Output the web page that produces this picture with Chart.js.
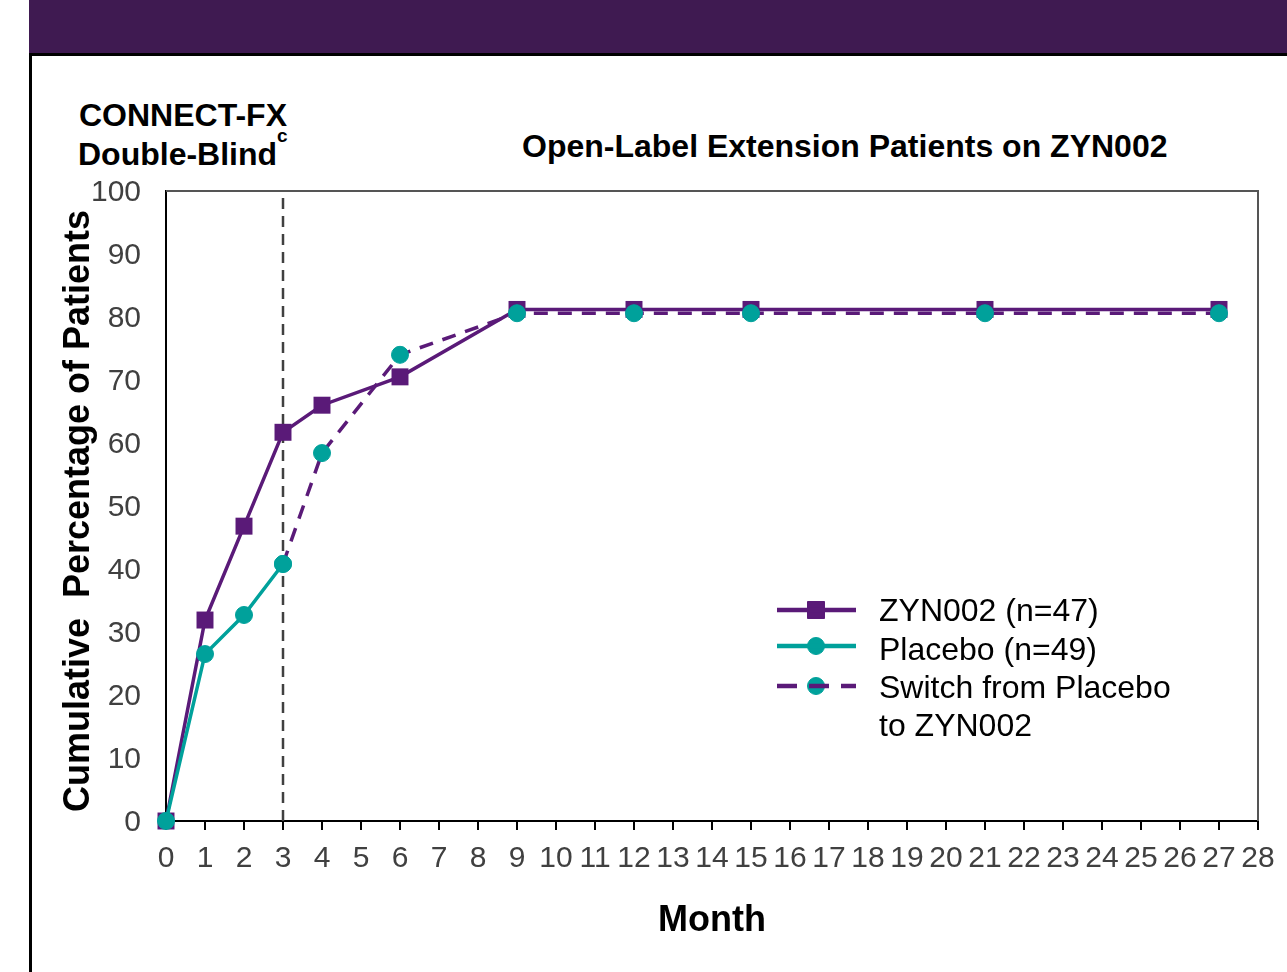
<!DOCTYPE html>
<html><head><meta charset="utf-8">
<script src="https://cdn.jsdelivr.net/npm/chart.js@4.4.1/dist/chart.umd.min.js"></script>
<style>
html,body{margin:0;padding:0;background:#fff;}
#wrap{position:relative;width:1287px;height:972px;overflow:hidden;font-family:"Liberation Sans",Arial,sans-serif;}
#hdr{position:absolute;left:29px;top:0;width:1258px;height:53px;background:#3F1A51;}
#hdrline{position:absolute;left:29px;top:53px;width:1258px;height:3px;background:#000;}
#lborder{position:absolute;left:29px;top:53px;width:3px;height:919px;background:#000;}
.t{position:absolute;font-weight:bold;color:#000;white-space:nowrap;font-family:"Liberation Sans",Arial,sans-serif;}
#cbox{position:absolute;left:0;top:0;width:1287px;height:972px;}
</style>
</head>
<body>
<div id="wrap">
  <div id="hdr"></div>
  <div id="hdrline"></div>
  <div id="lborder"></div>
  <div class="t" style="left:79px;top:99px;font-size:32px;line-height:32px;">CONNECT-FX</div>
  <div class="t" style="left:78px;top:138px;font-size:32px;line-height:32px;">Double-Blind</div>
  <div class="t" style="left:277px;top:126px;font-size:19px;line-height:19px;">c</div>
  <div class="t" style="left:522px;top:130px;font-size:32px;line-height:32px;">Open-Label Extension Patients on ZYN002</div>
  <div id="cbox"><canvas id="c"></canvas></div>
</div>
<script>
// ---- data ----
const zynMonths = [0, 1, 2, 3, 4, 6, 9, 12, 15, 21, 27];
const zynValues = [0, 31.9, 46.8, 61.7, 66.0, 70.5, 81.2, 81.2, 81.2, 81.2, 81.2];
const placeboMonths = [0, 1, 2, 3];
const placeboValues = [0, 26.5, 32.7, 40.8];
const switchMonths = [3, 4, 6, 9, 12, 15, 21, 27];
const switchValues = [40.8, 58.4, 74.0, 80.6, 80.6, 80.6, 80.6, 80.6];
const seriesLabels = ['ZYN002 (n=47)', 'Placebo (n=49)', 'Switch from Placebo\nto ZYN002'];
const monthMin = 0, monthMax = 28;
const pctMin = 0, pctMax = 100;
const dividerMonth = 3;
const xTitle = 'Month';
const yTitle = 'Cumulative  Percentage of Patients ';

const PURPLE = '#5A1A78';
const TEAL = '#00A19B';
const FONT = '"Liberation Sans", Arial, sans-serif';

function pts(xs, ys){ return xs.map((x,i)=>({x:x, y:ys[i]})); }

const framePlugin = {
  id: 'frame',
  beforeDatasetsDraw(chart){
    const {ctx, chartArea:a, scales:{x}} = chart;
    ctx.save();
    ctx.strokeStyle = '#555';
    ctx.lineWidth = 2;
    ctx.beginPath();
    ctx.moveTo(a.left, a.top); ctx.lineTo(a.right, a.top); ctx.lineTo(a.right, a.bottom);
    ctx.stroke();
    const dx = x.getPixelForValue(dividerMonth);
    ctx.strokeStyle = '#404040';
    ctx.lineWidth = 2.5;
    ctx.setLineDash([11, 7]);
    ctx.beginPath();
    ctx.moveTo(dx, a.top + 7); ctx.lineTo(dx, a.bottom);
    ctx.stroke();
    ctx.restore();
  },
  afterDraw(chart){
    const ctx = chart.ctx;
    const sampleY = [610, 646, 686];
    const textY = [612, 651, 689];
    const lineH = 38;
    ctx.save();
    chart.data.datasets.forEach((ds, i) => {
      const y = sampleY[i];
      ctx.setLineDash([]);
      ctx.fillStyle = ds.pointBackgroundColor;
      ctx.strokeStyle = ds.pointBorderColor;
      ctx.lineWidth = 1;
      Chart.helpers.drawPoint(ctx, {pointStyle: ds.pointStyle, radius: ds.pointRadius, borderWidth: 1, rotation: 0}, 816, y);
      ctx.beginPath();
      ctx.strokeStyle = ds.borderColor;
      ctx.lineWidth = 4.5;
      ctx.setLineDash(ds.borderDash ? [20, 12] : []);
      ctx.moveTo(777, y); ctx.lineTo(856, y);
      ctx.stroke();
      ctx.setLineDash([]);
      ctx.fillStyle = '#000';
      ctx.font = '32px ' + FONT;
      ctx.textBaseline = 'middle';
      ctx.textAlign = 'left';
      ds.label.split('\n').forEach((ln, k) => ctx.fillText(ln, 879, textY[i] + k*lineH));
    });
    ctx.restore();
  }
};

new Chart(document.getElementById('c'), {
  type: 'line',
  data: {
    datasets: [
      { label: seriesLabels[0], data: pts(zynMonths, zynValues), borderColor: PURPLE, borderWidth: 3.5,
        pointStyle: 'rect', pointRadius: 12, pointBackgroundColor: PURPLE, pointBorderColor: PURPLE, pointBorderWidth: 0,
        order: 3, clip: false },
      { label: seriesLabels[1], data: pts(placeboMonths, placeboValues), borderColor: TEAL, borderWidth: 3.5,
        pointStyle: 'circle', pointRadius: 8.5, pointBackgroundColor: TEAL, pointBorderColor: TEAL, pointBorderWidth: 1,
        order: 2, clip: false },
      { label: seriesLabels[2], data: pts(switchMonths, switchValues), borderColor: PURPLE, borderWidth: 3.5, borderDash: [14, 10],
        pointStyle: 'circle', pointRadius: 8.5, pointBackgroundColor: TEAL, pointBorderColor: TEAL, pointBorderWidth: 1,
        order: 1, clip: false }
    ]
  },
  options: {
    responsive: true,
    maintainAspectRatio: false,
    animation: false,
    layout: { padding: { left: 0, top: 191, right: 29, bottom: 0 } },
    plugins: { legend: { display: false }, tooltip: { enabled: false } },
    scales: {
      x: {
        type: 'linear', min: monthMin, max: monthMax,
        ticks: { stepSize: 1, autoSkip: false, maxRotation: 0, font: { family: FONT, size: 30 }, color: '#404040', padding: 11 },
        grid: { display: true, drawOnChartArea: false, drawTicks: true, tickLength: 9, color: '#000', lineWidth: 2 },
        border: { display: true, color: '#000', width: 2 },
        title: { display: true, text: xTitle, color: '#000', font: { family: FONT, size: 36, weight: 'bold' }, padding: { top: 0, bottom: 29 } },
        afterFit(s){ s.height = 151; s.paddingLeft = 0; s.paddingRight = 0; }
      },
      y: {
        min: pctMin, max: pctMax,
        ticks: { stepSize: 10, font: { family: FONT, size: 30 }, color: '#404040', padding: 25, labelOffset: 2 },
        grid: { display: true, drawOnChartArea: false, drawTicks: false, color: '#000', lineWidth: 2 },
        border: { display: true, color: '#000', width: 2 },
        title: { display: true, text: yTitle, color: '#000', font: { family: FONT, size: 36, weight: 'bold' }, padding: { top: 57, bottom: 0 } },
        afterFit(s){ s.width = 166; s.paddingTop = 0; s.paddingBottom = 0; }
      }
    }
  },
  plugins: [framePlugin]
});
</script>
</body></html>
